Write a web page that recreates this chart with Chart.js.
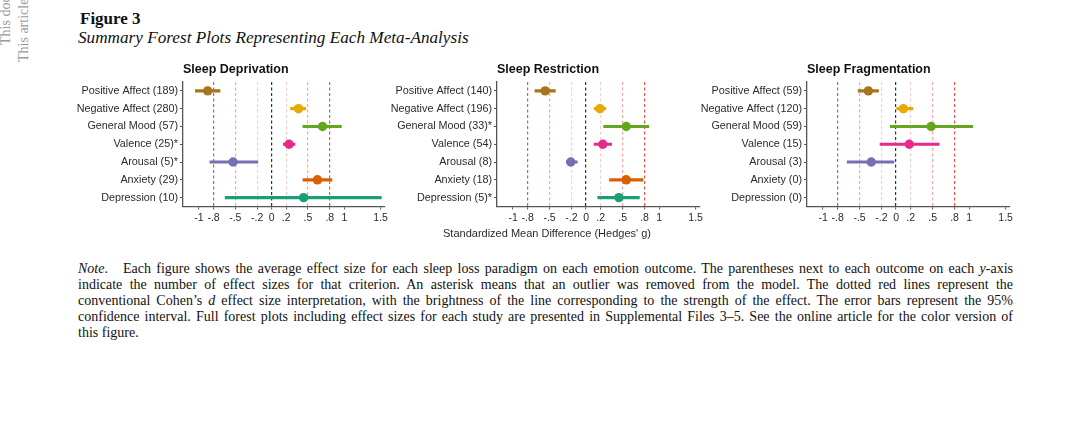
<!DOCTYPE html>
<html>
<head>
<meta charset="utf-8">
<script src="https://cdn.jsdelivr.net/npm/chart.js@4.4.1/dist/chart.umd.min.js"></script>
<style>
  body { margin: 0; background: #fff; }
  #page { position: relative; width: 1082px; height: 435px; overflow: hidden; background: #fff; }
  .side { position: absolute; transform-origin: 0 0; transform: rotate(-90deg); white-space: nowrap;
          font: 14px 'Liberation Serif', 'Times New Roman', serif; line-height: 14px; color: #9a9a9a; }
  .fig { position: absolute; left: 80px; top: 9px; font: bold 17px 'Liberation Serif', serif; line-height: 20px; color: #111; }
  .caption { position: absolute; left: 78px; top: 28px; font: italic 17.2px 'Liberation Serif', serif; line-height: 20px; color: #111; }
  canvas { position: absolute; top: 52px; }
  .xtitle { position: absolute; left: 347px; width: 400px; top: 226px; text-align: center;
            font: 11px 'Liberation Sans', Arial, sans-serif; line-height: 14px; color: #2b2b2b; }
  .note { position: absolute; left: 78px; top: 260.5px; width: 935px;
          font: 14px 'Liberation Serif', 'Times New Roman', serif; line-height: 16.2px; color: #111; }
  .note div { white-space: nowrap; text-align: justify; text-align-last: justify; }
  .note div.last { text-align-last: left; }
  .note .gap { display: inline-block; width: 15px; }
</style>
</head>
<body>
<div id="page">
  <div class="side" style="left:-1px; top:45px;">This document is copyrighted by the American Psychological Association or one of its allied publishers.</div>
  <div class="side" style="left:17px; top:62px;">This article is intended solely for the personal use of the individual user and is not to be disseminated broadly.</div>

  <div class="fig">Figure 3</div>
  <div class="caption">Summary Forest Plots Representing Each Meta-Analysis</div>

  <canvas id="depChart" width="330" height="192" style="left:70px"></canvas>
  <canvas id="resChart" width="330" height="192" style="left:385px"></canvas>
  <canvas id="fragChart" width="330" height="192" style="left:695px"></canvas>

  <div class="xtitle">Standardized Mean Difference (Hedges' g)</div>

  <div class="note">
    <div><i>Note</i>.<span class="gap"></span>Each figure shows the average effect size for each sleep loss paradigm on each emotion outcome. The parentheses next to each outcome on each <i>y</i>-axis</div>
    <div>indicate the number of effect sizes for that criterion. An asterisk means that an outlier was removed from the model. The dotted red lines represent the</div>
    <div>conventional Cohen’s <i>d</i> effect size interpretation, with the brightness of the line corresponding to the strength of the effect. The error bars represent the 95%</div>
    <div>confidence interval. Full forest plots including effect sizes for each study are presented in Supplemental Files 3–5. See the online article for the color version of</div>
    <div class="last">this figure.</div>
  </div>
</div>

<script>
// x axis ticks
const X_TICKS = [-1, -0.8, -0.5, -0.2, 0, 0.2, 0.5, 0.8, 1, 1.5];
const X_TICK_LABELS = ['-1', '-.8', '-.5', '-.2', '0', '.2', '.5', '.8', '1', '1.5'];

// one colour per outcome (top to bottom)
const COLORS = ['#A6761D', '#E6AB02', '#66A61E', '#E7298A', '#7570B3', '#D95F02', '#1B9E77'];

// Sleep Deprivation
const DEP_LABELS = ['Positive Affect (189)', 'Negative Affect (280)', 'General Mood (57)', 'Valence (25)*', 'Arousal (5)*', 'Anxiety (29)', 'Depression (10)'];
const DEP_G  = [-0.88, 0.37, 0.70, 0.24, -0.53, 0.63, 0.44];
const DEP_LO = [-1.05, 0.26, 0.43, 0.16, -0.85, 0.43, -0.64];
const DEP_HI = [-0.71, 0.47, 0.96, 0.32, -0.19, 0.83, 1.51];

// Sleep Restriction
const RES_LABELS = ['Positive Affect (140)', 'Negative Affect (196)', 'General Mood (33)*', 'Valence (54)', 'Arousal (8)', 'Anxiety (18)', 'Depression (5)*'];
const RES_G  = [-0.56, 0.19, 0.55, 0.23, -0.21, 0.55, 0.45];
const RES_LO = [-0.70, 0.11, 0.24, 0.11, -0.27, 0.32, 0.16];
const RES_HI = [-0.42, 0.27, 0.86, 0.35, -0.12, 0.78, 0.73];

// Sleep Fragmentation
const FRAG_LABELS = ['Positive Affect (59)', 'Negative Affect (120)', 'General Mood (59)', 'Valence (15)', 'Arousal (3)', 'Anxiety (0)', 'Depression (0)'];
const FRAG_G  = [-0.38, 0.10, 0.48, 0.18, -0.34, null, null];
const FRAG_LO = [-0.52, 0.00, -0.08, -0.22, -0.67, null, null];
const FRAG_HI = [-0.24, 0.23, 1.05, 0.59, -0.03, null, null];

Chart.defaults.font.family = "'Liberation Sans', Arial, sans-serif";
Chart.defaults.color = '#2b2b2b';

// dotted reference lines: 0 in black, Cohen's d cut-offs in red
const refColor = (v) => {
  const a = Math.abs(v);
  if (a < 1e-9) return '#333333';
  if (Math.abs(a - 0.8) < 1e-9) return '#e4564e';
  if (Math.abs(a - 0.5) < 1e-9) return '#f3aaa5';
  if (Math.abs(a - 0.2) < 1e-9) return '#efcfcf';
  return 'rgba(0,0,0,0)';
};

const makeForest = (id, title, labels, g, lo, hi, yWidth) => {
  const points = [];
  labels.forEach((l, i) => { if (g[i] !== null) points.push({ x: g[i], y: l }); });

  new Chart(document.getElementById(id), {
    type: 'bar',
    data: {
      labels: labels,
      datasets: [
        {
          type: 'scatter',
          data: points,
          order: 0,
          pointRadius: 4.7,
          pointBorderWidth: 0,
          pointBackgroundColor: COLORS,
        },
        {
          type: 'bar',
          data: lo.map((v, i) => (v === null ? null : [v, hi[i]])),
          order: 1,
          backgroundColor: COLORS,
          barThickness: 2.5,
          borderWidth: 0,
          borderSkipped: false,
        },
      ],
    },
    options: {
      indexAxis: 'y',
      responsive: false,
      animation: false,
      layout: { padding: { left: 0, right: 15, top: 0, bottom: 0 } },
      plugins: {
        legend: { display: false },
        tooltip: { enabled: false },
        title: {
          display: true,
          text: title,
          align: 'start',
          fullSize: false,
          color: '#111',
          font: { size: 12.5, weight: 'bold' },
          padding: { top: 10, bottom: 5 },
        },
      },
      scales: {
        x: {
          type: 'linear',
          min: -1.22,
          max: 1.56,
          afterBuildTicks: (s) => { s.ticks = X_TICKS.map((v) => ({ value: v })); },
          afterFit: (s) => { s.height = 37.5; },
          ticks: {
            autoSkip: false,
            maxRotation: 0,
            minRotation: 0,
            padding: 2,
            color: '#2b2b2b',
            font: { size: 10.5 },
            callback: (v) => X_TICK_LABELS[X_TICKS.indexOf(v)],
          },
          grid: {
            color: (ctx) => refColor(ctx.tick.value),
            lineWidth: 1.2,
            drawTicks: true,
            tickLength: 3,
            tickColor: '#555',
            tickWidth: 1,
          },
          border: { color: '#555', width: 1.3, dash: [3, 2.5] },
        },
        y: {
          type: 'category',
          offset: true,
          afterFit: (s) => { s.width = yWidth; },
          ticks: { padding: 2, color: '#2b2b2b', font: { size: 10.8 } },
          grid: { offset: false, drawOnChartArea: false, drawTicks: true, tickLength: 3, tickColor: '#555' },
          border: { color: '#555', width: 1.3 },
        },
      },
    },
  });
};

makeForest('depChart', 'Sleep Deprivation', DEP_LABELS, DEP_G, DEP_LO, DEP_HI, 113);
makeForest('resChart', 'Sleep Restriction', RES_LABELS, RES_G, RES_LO, RES_HI, 112);
makeForest('fragChart', 'Sleep Fragmentation', FRAG_LABELS, FRAG_G, FRAG_LO, FRAG_HI, 112);
</script>
</body>
</html>
